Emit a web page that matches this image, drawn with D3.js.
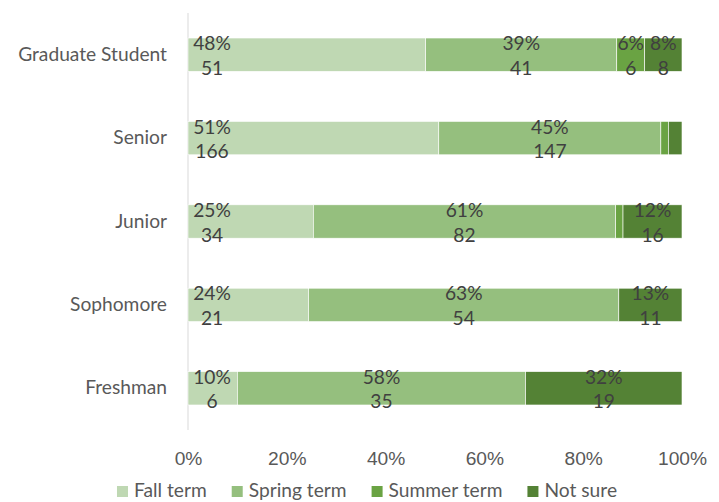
<!DOCTYPE html>
<html>
<head>
<meta charset="utf-8">
<script src="https://cdn.jsdelivr.net/npm/d3@7"></script>
<style>
  body { margin: 0; background: #fff; }
  svg { font-family: Lato, "Open Sans", sans-serif; }
  .cat, .tick text { fill: #595959; font-size: 19.2px; }
  .lbl { fill: #404040; font-size: 19.2px; }
  .leg text { fill: #595959; font-size: 19.2px; }
</style>
</head>
<body>
<svg width="719" height="502"></svg>
<script>
const categories = ["Graduate Student", "Senior", "Junior", "Sophomore", "Freshman"]
const seriesNames = ["Fall term", "Spring term", "Summer term", "Not sure"]
const fallTerm = [51, 166, 34, 21, 6]
const springTerm = [41, 147, 82, 54, 35]
const summerTerm = [6, 5, 2, 0, 0]
const notSure = [8, 9, 16, 11, 19]
const tickLabels = [0, 0.2, 0.4, 0.6, 0.8, 1]
const colors = ["#bfd8b3", "#95bf7e", "#6aa343", "#548235"]

const svg = d3.select("svg")

const counts = [fallTerm, springTerm, summerTerm, notSure]

const rows = categories.map((c, i) => {
  const vals = counts.map(s => s[i])
  const total = d3.sum(vals)
  let acc = 0
  const segs = vals.map((v, k) => {
    const s = { cat: c, k: k, count: v, x0: acc / total, x1: (acc + v) / total, pct: v / total }
    acc += v
    return s
  })
  return { cat: c, segs: segs }
})

const x = d3.scaleLinear()
  .domain([0, 1])
  .range([188, 682])

const y = d3.scaleBand()
  .domain(categories)
  .range([13, 430])
  .paddingInner(0.6)
  .paddingOuter(0.3)

// vertical axis line
svg.append("line")
  .attr("x1", x(0)).attr("x2", x(0))
  .attr("y1", 13).attr("y2", 430)
  .attr("stroke", "#d9d9d9")
  .attr("stroke-width", 1)

const groups = svg.selectAll("g.row")
  .data(rows)
  .enter().append("g")
  .attr("class", "row")

groups.selectAll("rect")
  .data(d => d.segs)
  .enter().append("rect")
  .attr("x", d => x(d.x0))
  .attr("y", d => y(d.cat))
  .attr("width", d => x(d.x1) - x(d.x0))
  .attr("height", y.bandwidth())
  .attr("fill", d => colors[d.k])
  .attr("stroke", "#fff")
  .attr("stroke-width", d => d.count > 0 ? 0.6 : 0)

const labelled = groups.selectAll("g.lbl")
  .data(d => d.segs.filter(s => s.pct >= 0.05))
  .enter().append("g")
  .attr("class", "lbl")
  .attr("transform", d => {
    const cx = d.k == 0 ? x(d.x0) + 24 : (x(d.x0) + x(d.x1)) / 2
    return `translate(${cx}, ${y(d.cat) + y.bandwidth() / 2})`
  })

labelled.append("text")
  .attr("class", "lbl")
  .attr("text-anchor", "middle")
  .attr("y", -4.5)
  .text(d => Math.round(d.pct * 100) + "%")

labelled.append("text")
  .attr("class", "lbl")
  .attr("text-anchor", "middle")
  .attr("y", 20)
  .text(d => d.count)

// category labels
svg.selectAll("text.cat")
  .data(categories)
  .enter().append("text")
  .attr("class", "cat")
  .attr("x", 167)
  .attr("y", d => y(d) + y.bandwidth() / 2 + 6)
  .attr("text-anchor", "end")
  .text(d => d)

// x axis ticks
const xAxis = d3.axisBottom(x)
  .tickValues(tickLabels)
  .tickFormat(d3.format(".0%"))
  .tickSize(0)
  .tickPadding(0)

const axisG = svg.append("g")
  .attr("transform", "translate(0, 450)")
  .call(xAxis)
axisG.select(".domain").remove()
axisG.selectAll("text")
  .attr("font-family", null)
  .attr("font-size", null)
  .attr("fill", null)
  .attr("dy", "0.75em")
  .attr("y", 1)

// legend
const leg = svg.append("g").attr("class", "leg")
const items = leg.selectAll("g")
  .data(seriesNames)
  .enter().append("g")

items.append("rect")
  .attr("width", 11).attr("height", 11)
  .attr("y", 486)
  .attr("fill", (d, i) => colors[i])

items.append("text")
  .attr("x", 17)
  .attr("y", 497)
  .text(d => d)

let cursor = 0
items.each(function(d) {
  const w = this.querySelector("text").getComputedTextLength()
  d3.select(this).attr("transform", `translate(${cursor}, 0)`)
  cursor += 17 + w + 25
})
const total = cursor - 25
leg.attr("transform", `translate(${367 - total / 2}, 0)`)
</script>
</body>
</html>
